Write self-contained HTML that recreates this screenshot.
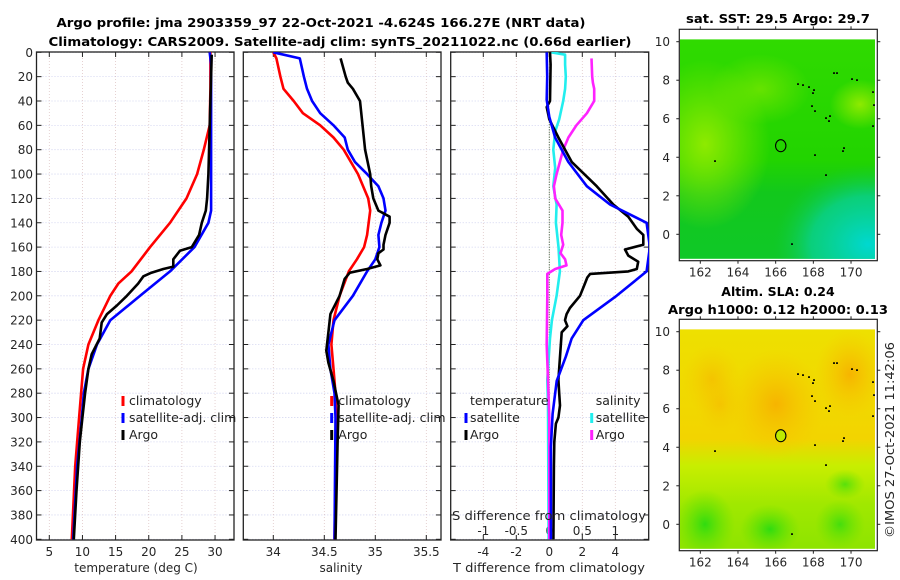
<!DOCTYPE html>
<html><head><meta charset="utf-8"><style>
html,body{margin:0;padding:0;background:#fff}
svg{display:block;font-family:"DejaVu Sans","Liberation Sans",sans-serif}
.tk{font-size:12px;fill:#262626}
.ttl{font-size:12.5px;font-weight:bold;fill:#000}
</style></head><body>
<svg id="fig" width="900" height="580" viewBox="0 0 900 580">
<defs>
<clipPath id="c1"><rect x="37" y="52" width="197" height="488"/></clipPath>
<clipPath id="c2"><rect x="243" y="52" width="198" height="488"/></clipPath>
<clipPath id="c3"><rect x="451" y="52" width="198" height="488"/></clipPath>
<clipPath id="m1"><rect x="680" y="39.3" width="195" height="219.6"/></clipPath>
<clipPath id="m2"><rect x="680" y="329.3" width="195" height="219.6"/></clipPath>
<radialGradient id="gYL" cx="0.5" cy="0.5" r="0.5"><stop offset="0" stop-color="#8eea00"/><stop offset="1" stop-color="#8eea00" stop-opacity="0"/></radialGradient>
<radialGradient id="gCy" cx="0.5" cy="0.5" r="0.5"><stop offset="0" stop-color="#00d8d0"/><stop offset="0.6" stop-color="#08d2a0" stop-opacity="0.7"/><stop offset="1" stop-color="#10cc40" stop-opacity="0"/></radialGradient>
<linearGradient id="gTop" x1="0" y1="0" x2="0" y2="1"><stop offset="0" stop-color="#30da00"/><stop offset="0.55" stop-color="#22d400"/><stop offset="0.7" stop-color="#12c81c"/><stop offset="1" stop-color="#10c828"/></linearGradient>
<linearGradient id="gBot" x1="0" y1="0" x2="0" y2="1"><stop offset="0" stop-color="#eee000"/><stop offset="0.5" stop-color="#f2d400"/><stop offset="0.62" stop-color="#c8ee00"/><stop offset="0.8" stop-color="#a0e800"/><stop offset="1" stop-color="#8ee400"/></linearGradient>
<radialGradient id="gOr" cx="0.5" cy="0.5" r="0.5"><stop offset="0" stop-color="#f6b400"/><stop offset="1" stop-color="#f6c800" stop-opacity="0"/></radialGradient>
<radialGradient id="gGr" cx="0.5" cy="0.5" r="0.5"><stop offset="0" stop-color="#30dc10"/><stop offset="1" stop-color="#60e000" stop-opacity="0"/></radialGradient>
</defs>
<g id="root"></g>
<text class="ttl" x="321" y="27" text-anchor="middle" textLength="529" lengthAdjust="spacingAndGlyphs">Argo profile: jma 2903359_97 22-Oct-2021 -4.624S 166.27E (NRT data)</text>
<text class="ttl" x="340" y="46" text-anchor="middle" textLength="583" lengthAdjust="spacingAndGlyphs">Climatology: CARS2009. Satellite-adj clim: synTS_20211022.nc (0.66d earlier)</text>
<text class="tk" x="136" y="572" text-anchor="middle">temperature (deg C)</text>
<text class="tk" x="341" y="572" text-anchor="middle">salinity</text>
<text class="tk" x="549" y="572" text-anchor="middle" textLength="192" lengthAdjust="spacingAndGlyphs">T difference from climatology</text>
<text class="tk" x="549" y="520" text-anchor="middle" textLength="194" lengthAdjust="spacingAndGlyphs">S difference from climatology</text>
<text class="ttl" x="778" y="23" text-anchor="middle" textLength="184" lengthAdjust="spacingAndGlyphs">sat. SST: 29.5 Argo: 29.7</text>
<text class="ttl" x="778" y="296" text-anchor="middle">Altim. SLA: 0.24</text>
<text class="ttl" x="778" y="314" text-anchor="middle" textLength="220" lengthAdjust="spacingAndGlyphs">Argo h1000: 0.12 h2000: 0.13</text>
<text class="tk" transform="translate(894,440) rotate(-90)" text-anchor="middle" textLength="196" lengthAdjust="spacingAndGlyphs">©IMOS 27-Oct-2021 11:42:06</text>
</svg>
<script>
const NS="http://www.w3.org/2000/svg";
const depthTicks=[0,20,40,60,80,100,120,140,160,180,200,220,240,260,280,300,320,340,360,380,400];
const tTicks=[5,10,15,20,25,30];
const sTicks=[34,34.5,35,35.5];
const dtTicks=[-4,-2,0,2,4];
const dsTicks=[-1,-0.5,0,0.5,1];
const dsTickLabels=["-1","-0.5","0","0.5","1"];
// temperature
const tClimDepth=[0,30,60,80,100,120,140,160,180,190,200,220,240,260,280,300,340,400];
const tClimVal=[29.3,29.3,29.2,28.3,27.3,25.7,23.2,20.2,17.4,15.4,14.2,12.4,10.9,10.1,9.8,9.5,8.9,8.4];
const tSatDepth=[0,10,130,140,160,180,200,220,240,260,280,300,340,400];
const tSatVal=[29.2,29.4,29.4,29.0,26.9,23.2,18.7,14.2,12.2,10.9,10.2,9.9,9.2,8.6];
const tArgoDepth=[2,40,100,120,130,140,150,160,163,170,176,178,181,184,190,200,208,215,222,235,248,260,280,300,320,360,400];
const tArgoVal=[29.5,29.3,29.0,28.8,28.6,28.0,27.6,26.5,24.7,23.7,23.7,22.2,20.4,19.2,18.4,16.7,15.2,13.7,12.9,12.6,11.4,10.9,10.4,10.0,9.6,9.1,8.7];
// salinity
const sClimDepth=[0,5,20,30,40,50,60,70,80,100,120,130,150,160,170,180,200,220,240,260,280,300,400];
const sClimVal=[34.0,34.03,34.07,34.1,34.2,34.29,34.46,34.59,34.69,34.83,34.93,34.95,34.92,34.89,34.82,34.74,34.65,34.59,34.57,34.59,34.61,34.62,34.60];
const sSatDepth=[0,5,20,30,40,50,60,70,80,90,100,110,120,130,140,150,160,170,180,200,220,240,260,280,300,400];
const sSatVal=[34.0,34.26,34.30,34.33,34.38,34.46,34.59,34.70,34.73,34.80,34.92,35.03,35.08,35.10,35.06,35.03,35.04,35.0,34.92,34.78,34.60,34.54,34.56,34.60,34.61,34.60];
const sArgoDepth=[5,20,25,30,40,80,100,110,120,130,135,140,150,158,162,165,170,175,178,181,186,200,215,230,245,255,270,290,320,400];
const sArgoVal=[34.66,34.71,34.73,34.78,34.85,34.90,34.95,34.96,34.98,35.03,35.14,35.14,35.10,35.08,35.08,35.03,35.02,35.05,34.92,34.75,34.70,34.65,34.56,34.54,34.52,34.54,34.59,34.64,34.63,34.61];
// differences
const dtSatDepth=[0,20,39,53,70,90,110,125,140,160,180,200,220,235,250,270,297,324,400];
const dtSatVal=[-0.16,-0.13,-0.16,0,0.35,1.15,2.27,3.68,5.9,6.1,5.9,4.08,2.06,1.36,1.0,0.45,0.2,0.1,0.1];
const dtArgoDepth=[0,10,40,45,55,70,90,110,125,135,145,150,158,162,167,172,178,180,182,185,190,200,210,215,220,225,230,269,280,290,300,305,320,340,400];
const dtArgoVal=[0.04,0.08,0.04,-0.16,0,0.55,1.36,2.87,3.88,4.79,5.3,5.7,5.7,4.59,4.79,5.39,5.3,4.79,2.47,2.3,2.16,1.86,1.25,1.05,0.95,1.1,0.75,0.55,0.6,0.65,0.55,0.4,0.3,0.28,0.25];
const dsSatDepth=[0,2,10,20,30,40,55,65,80,95,110,125,140,160,180,200,220,235,269,290,400];
const dsSatVal=[0.03,0.24,0.24,0.25,0.24,0.21,0.15,0.09,0.06,0.09,0.06,0.11,0.1,0.14,0.16,0.11,0.04,0.01,-0.03,-0.02,-0.01];
const dsArgoDepth=[5,20,25,30,40,50,60,70,80,90,100,110,120,130,140,150,158,165,170,175,178,182,200,240,269,300,400];
const dsArgoVal=[0.64,0.65,0.66,0.68,0.68,0.57,0.41,0.29,0.21,0.16,0.11,0.07,0.09,0.2,0.2,0.18,0.21,0.17,0.24,0.26,0.09,-0.03,-0.03,-0.04,-0.02,0,0.0];

const Y0=52.3,YS=1.2175;
const yD=d=>Y0+d*YS;
const xT=t=>49.3+(t-5)*6.63;
const xS=s=>273.3+(s-34)*102;
const xDT=v=>549.3+v*16.5;
const xDS=v=>549.3+v*66;
const root=document.getElementById('root');
function el(tag,attrs,parent){const e=document.createElementNS(NS,tag);for(const k in attrs)e.setAttribute(k,attrs[k]);(parent||root).appendChild(e);return e;}
function txt(x,y,s,anchor,parent){const t=el('text',{x:x,y:y,'class':'tk','text-anchor':anchor},parent);t.textContent=s;return t;}

function panel(name,x0,x1,xticks,xf,labels,showY,showXLabels){
  const g=el('g',{});
  
  
  depthTicks.forEach(d=>{const l=el('line',{x1:x0,x2:x1,y1:yD(d),y2:yD(d),stroke:'#b8bce8','stroke-width':0.8,'stroke-dasharray':'1,2','opacity':0.8},g);
    
    el('line',{x1:x0,x2:x0+5,y1:yD(d),y2:yD(d),stroke:'#222'},g);el('line',{x1:x1-5,x2:x1,y1:yD(d),y2:yD(d),stroke:'#222'},g);
    if(showY){const t=txt(33,yD(d)+4.5,String(d),'end',g);}
  });
  xticks.forEach((v,i)=>{const x=xf(v);const l=el('line',{x1:x,x2:x,y1:52,y2:540,stroke:'#d8b8b8','stroke-width':0.8,'stroke-dasharray':'1,2','opacity':0.8},g);
    
    el('line',{x1:x,x2:x,y1:540,y2:535,stroke:'#222'},g);el('line',{x1:x,x2:x,y1:52,y2:57,stroke:'#222'},g);
    if(showXLabels){const t=txt(x,556,labels[i],'middle',g);}
  });
  const r=el('rect',{x:x0,y:52,width:x1-x0,height:488,fill:'none',stroke:'#222','stroke-width':1.3},g);
  
  return g;
}
function series(name,depths,vals,xf,color,clip,w){
  const pts=depths.map((d,i)=>xf(vals[i]).toFixed(1)+','+yD(d).toFixed(1)).join(' ');
  const p=el('polyline',{points:pts,fill:'none',stroke:color,'stroke-width':w||2.6,'stroke-linejoin':'round','clip-path':'url(#'+clip+')'});
  
  
}
panel('temperature',36.5,234,tTicks,xT,tTicks.map(String),true,true);
panel('salinity',243.3,441,sTicks,xS,sTicks.map(String),false,true);
const g3=panel('difference',450.7,648.7,dtTicks,xDT,dtTicks.map(String),false,true);
dsTicks.forEach((v,i)=>{const t=txt(xDS(v),535,dsTickLabels[i],'middle',g3);});
const zl=el('line',{x1:549.3,x2:549.3,y1:yD(55),y2:540,stroke:'#335533','stroke-width':1,'stroke-dasharray':'1,1.5'});


series('temp-climatology-line',tClimDepth,tClimVal,xT,'#ff0000','c1');
series('temp-satellite-line',tSatDepth,tSatVal,xT,'#0000ff','c1');
series('temp-argo-line',tArgoDepth,tArgoVal,xT,'#000','c1');
series('sal-climatology-line',sClimDepth,sClimVal,xS,'#ff0000','c2');
series('sal-satellite-line',sSatDepth,sSatVal,xS,'#0000ff','c2');
series('sal-argo-line',sArgoDepth,sArgoVal,xS,'#000','c2');
series('s-diff-satellite-line',dsSatDepth,dsSatVal,xDS,'#22eeee','c3');
series('s-diff-argo-line',dsArgoDepth,dsArgoVal,xDS,'#ff22ff','c3');
series('t-diff-argo-line',dtArgoDepth,dtArgoVal,xDT,'#000','c3');
series('t-diff-satellite-line',dtSatDepth,dtSatVal,xDT,'#0000ff','c3');

function legendEntry(mx,tx,y,color,label){
  const g=el('g',{});
  
  
  el('rect',{x:mx-1.5,y:y-9,width:3,height:10,fill:color},g);
  txt(tx,y,label,'start',g).setAttribute('style','font-size:12.5px;fill:#222');
}
[[123,129],[331.7,338.3]].forEach(p=>{
  legendEntry(p[0],p[1],405,'#ff0000','climatology');
  legendEntry(p[0],p[1],422,'#0000ff','satellite-adj. clim');
  legendEntry(p[0],p[1],439,'#000','Argo');
});
const lt=txt(470,405,'temperature','start');lt.setAttribute('style','font-size:12.5px;fill:#222');

const ls=txt(595.7,405,'salinity','start');ls.setAttribute('style','font-size:12.5px;fill:#222');

legendEntry(466,470,422,'#0000ff','satellite');
legendEntry(466,470,439,'#000','Argo');
legendEntry(591.7,595.7,422,'#22eeee','satellite');
legendEntry(591.7,595.7,439,'#ff22ff','Argo');

// maps
const latTicks=[10,8,6,4,2,0];
const lonTicks=[162,164,166,168,170];
const floatLon=166.27, floatLat=4.6;
function map(name,top,kind,clip){
  const g=el('g',{});
  
  
  const lx=v=>700.3+(v-162)*18.84, ly=v=>top+12.4+(10-v)*19.26;
  const fx=679.3,fw=198,fy=top,fh=231.4;
  el('rect',{x:fx,y:fy,width:fw,height:fh,fill:'#fff'},g);
  const dx0=680,dy0=top+10,dw=195,dh=219.6;
  const f=el('g',{'clip-path':'url(#'+clip+')'},g);
  if(kind==='sst'){
    el('rect',{x:dx0,y:dy0,width:dw,height:dh,fill:'url(#gTop)'},f);
    el('ellipse',{cx:705,cy:top+115,rx:65,ry:85,fill:'url(#gYL)'},f);
    el('ellipse',{cx:860,cy:top+75,rx:30,ry:25,fill:'url(#gYL)'},f);
    el('ellipse',{cx:760,cy:top+60,rx:50,ry:35,fill:'url(#gYL)','opacity':0.6},f);
    el('ellipse',{cx:868,cy:top+215,rx:95,ry:80,fill:'url(#gCy)'},f);
  } else {
    el('rect',{x:dx0,y:dy0,width:dw,height:dh,fill:'url(#gBot)'},f);
    el('ellipse',{cx:776,cy:top+85,rx:48,ry:55,fill:'url(#gOr)'},f);
    el('ellipse',{cx:850,cy:top+55,rx:35,ry:45,fill:'url(#gOr)'},f);
    el('ellipse',{cx:712,cy:top+60,rx:30,ry:35,fill:'url(#gOr)','opacity':0.6},f);
    el('ellipse',{cx:720,cy:top+85,rx:25,ry:30,fill:'url(#gOr)','opacity':0.5},f);
    el('ellipse',{cx:705,cy:top+205,rx:30,ry:35,fill:'url(#gGr)'},f);
    el('ellipse',{cx:770,cy:top+210,rx:30,ry:25,fill:'url(#gGr)'},f);
    el('ellipse',{cx:840,cy:top+205,rx:25,ry:25,fill:'url(#gGr)','opacity':0.8},f);
    el('ellipse',{cx:845,cy:top+165,rx:20,ry:15,fill:'url(#gGr)','opacity':0.7},f);
  }
  [[833,top+43],[836,top+43],[851,top+49],[856,top+50],[797,top+54],[802,top+55],[808,top+57],[813,top+60],[812,top+63],[811,top+76],[814,top+81],[825,top+88],[828,top+91],[829,top+86],[872,top+62],[873,top+75],[872,top+96],[876,top+97],[843,top+118],[842,top+121],[814,top+125],[825,top+145],[714,top+131],[791,top+214]].forEach(p=>{
    el('rect',{x:p[0],y:p[1],width:2,height:1.6,fill:'#000'},f);
  });
  const c=el('ellipse',{cx:lx(floatLon),cy:ly(floatLat),rx:5.2,ry:6,fill:kind==='sst'?'none':'#bdea00',stroke:'#000','stroke-width':1.1},g);
  
  
  latTicks.forEach(v=>{const y=ly(v);el('line',{x1:fx-3,x2:fx,y1:y,y2:y,stroke:'#222'},g);el('line',{x1:fx+fw,x2:fx+fw+3,y1:y,y2:y,stroke:'#222'},g);
    const t=txt(670,y+4.5,String(v),'end',g);});
  lonTicks.forEach(v=>{const x=lx(v);el('line',{x1:x,x2:x,y1:fy+fh,y2:fy+fh+3,stroke:'#222'},g);el('line',{x1:x,x2:x,y1:fy-3,y2:fy,stroke:'#222'},g);
    const t=txt(x,fy+fh+16,String(v),'middle',g);});
  el('rect',{x:fx,y:fy,width:fw,height:fh,fill:'none',stroke:'#222','stroke-width':1.2},g);
}
map('sst-map',29.3,'sst','m1');
map('sla-map',319.3,'sla','m2');
</script>
</body></html>
